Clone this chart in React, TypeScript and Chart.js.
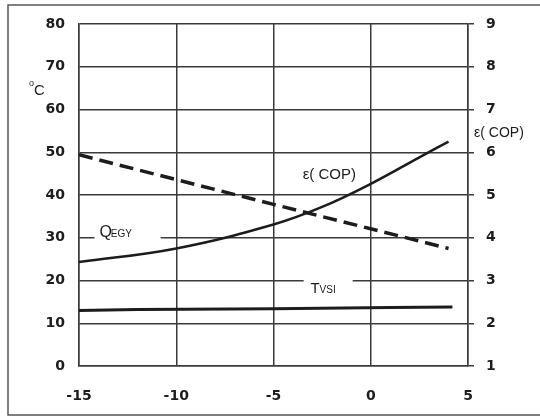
import React, { useEffect, useRef } from "react";
import { Chart, registerables } from "chart.js";

Chart.register(...registerables);

// x positions (outdoor temperature) and series values
const copX = [-15, -10, -5, -2.5, 0, 2.5, 4];
const copValues = [3.43, 3.75, 4.31, 4.72, 5.26, 5.88, 6.25]; // ε(COP), right axis
const qX = [-15, -10, -5, 0, 4];
const qValues = [49.4, 43.6, 37.8, 32.1, 27.5]; // dashed, °C axis
const tX = [-15, -12, -5, 1, 4.2];
const tValues = [13.0, 13.2, 13.4, 13.7, 13.8]; // T_VSI, °C axis

const xTicks = [-15, -10, -5, 0, 5];
const leftTicks = [0, 10, 20, 30, 40, 50, 60, 70, 80];
const rightTicks = [1, 2, 3, 4, 5, 6, 7, 8, 9];

const INK = "#1c1c1c";
const GRID = "#3a3a3a";
const TICKFONT = { family: "'DejaVu Sans', sans-serif", size: 14, weight: "bold" as const };

const decor = {
  id: "decor",
  beforeDraw(chart: any) {
    const c = chart.ctx;
    c.save();
    c.fillStyle = "#fff";
    c.fillRect(0, 0, chart.width, chart.height);
    c.strokeStyle = "#555";
    c.lineWidth = 1.5;
    c.strokeRect(8, 5, 560, 410);
    c.restore();
  },
  beforeDatasetsDraw(chart: any) {
    const c = chart.ctx;
    const xs = chart.scales.x;
    const ys = chart.scales.y;
    c.save();
    c.fillStyle = "#fff";
    // gaps in gridlines behind labels
    const y30 = ys.getPixelForValue(30);
    const a1 = xs.getPixelForValue(-14.2);
    const b1 = xs.getPixelForValue(-10.8);
    c.fillRect(a1, y30 - 3, b1 - a1, 6);
    const y20 = ys.getPixelForValue(20);
    const a2 = xs.getPixelForValue(-3.45);
    const b2 = xs.getPixelForValue(-0.93);
    c.fillRect(a2, y20 - 3, b2 - a2, 6);
    c.restore();
  },
  afterDraw(chart: any) {
    const c = chart.ctx;
    const xs = chart.scales.x;
    const ys = chart.scales.y;
    c.save();
    c.fillStyle = INK;
    c.textBaseline = "alphabetic";
    c.textAlign = "left";
    // °C
    c.font = "9px 'Liberation Sans', Arial, sans-serif";
    c.fillText("o", 29, 86);
    c.font = "15px 'Liberation Sans', Arial, sans-serif";
    c.fillText("C", 34, 95);
    // right axis title
    c.font = "14px 'Liberation Sans', Arial, sans-serif";
    c.fillText("ε( COP)", 474, 137);
    // ε(COP) label inside plot
    c.font = "15px 'Liberation Sans', Arial, sans-serif";
    c.fillText("ε( COP)", xs.getPixelForValue(-3.5), ys.getPixelForValue(43.7));
    // Q_EGY
    const qx = xs.getPixelForValue(-13.95);
    const qy = ys.getPixelForValue(30) - 1;
    c.font = "16px 'Liberation Sans', Arial, sans-serif";
    c.fillText("Q", qx, qy);
    const qw = c.measureText("Q").width;
    c.font = "10px 'Liberation Sans', Arial, sans-serif";
    c.fillText("EGY", qx + qw - 1, qy);
    // T_VSI
    const tx = xs.getPixelForValue(-3.1);
    const ty = ys.getPixelForValue(17.0);
    c.font = "15px 'Liberation Sans', Arial, sans-serif";
    c.fillText("T", tx, ty);
    const tw = c.measureText("T").width;
    c.font = "10px 'Liberation Sans', Arial, sans-serif";
    c.fillText("VSI", tx + tw, ty);
    c.restore();
  },
};

export default function App() {
  const ref = useRef<HTMLCanvasElement>(null);
  useEffect(() => {
    if (!ref.current) return;
    const chart = new Chart(ref.current, {
      type: "line",
      data: {
        datasets: [
          {
            label: "ε(COP)",
            data: copX.map((x, i) => ({ x, y: copValues[i] })),
            yAxisID: "y1",
            borderColor: INK,
            borderWidth: 2.5,
            pointRadius: 0,
            tension: 0.4,
          },
          {
            label: "QEGY",
            data: qX.map((x, i) => ({ x, y: qValues[i] })),
            yAxisID: "y",
            borderColor: INK,
            borderWidth: 3.5,
            borderDash: [14, 7],
            pointRadius: 0,
            tension: 0,
          },
          {
            label: "TVSI",
            data: tX.map((x, i) => ({ x, y: tValues[i] })),
            yAxisID: "y",
            borderColor: INK,
            borderWidth: 3,
            pointRadius: 0,
            tension: 0,
          },
        ],
      },
      options: {
        responsive: false,
        animation: false,
        layout: { padding: { top: 24, left: 0, right: 0, bottom: 0 } },
        plugins: { legend: { display: false }, tooltip: { enabled: false } },
        scales: {
          x: {
            type: "linear",
            min: -15,
            max: 5,
            afterBuildTicks: (s: any) => {
              s.ticks = xTicks.map((v) => ({ value: v }));
            },
            afterFit: (s: any) => {
              s.height = 51;
            },
            grid: { color: GRID, lineWidth: 1.5, drawTicks: false },
            border: { color: GRID, width: 1.5 },
            ticks: { color: INK, font: TICKFONT, padding: 22, maxRotation: 0 },
          },
          y: {
            position: "left",
            min: 0,
            max: 80,
            afterBuildTicks: (s: any) => {
              s.ticks = leftTicks.map((v) => ({ value: v }));
            },
            afterFit: (s: any) => {
              s.width = 79;
            },
            grid: { color: GRID, lineWidth: 1.5, drawTicks: false },
            border: { color: GRID, width: 1.5 },
            ticks: { color: INK, font: TICKFONT, padding: 14 },
          },
          y1: {
            position: "right",
            min: 1,
            max: 9,
            afterBuildTicks: (s: any) => {
              s.ticks = rightTicks.map((v) => ({ value: v }));
            },
            afterFit: (s: any) => {
              s.width = 72;
            },
            grid: { drawOnChartArea: false, color: GRID, lineWidth: 1.5, drawTicks: true, tickLength: 6 },
            border: { color: GRID, width: 1.5 },
            ticks: { color: INK, font: TICKFONT, padding: 12 },
          },
        },
      },
      plugins: [decor],
    } as any);
    return () => chart.destroy();
  }, []);
  return (
    <div style={{ position: "fixed", left: 0, top: 0, width: 540, height: 417, background: "#fff" }}>
      <canvas ref={ref} width={540} height={417} style={{ display: "block" }} />
    </div>
  );
}
